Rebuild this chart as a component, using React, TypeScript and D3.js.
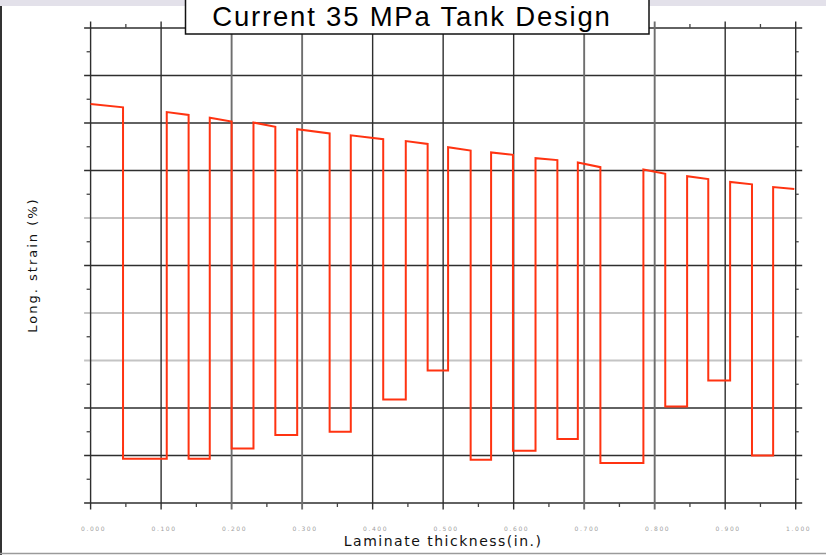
import React from "react";
import * as d3 from "d3";

// layer boundaries through the wall (in.), 15 helical + 14 hoop layers
const layerEdges = [
  0, 0.046, 0.108, 0.139, 0.169, 0.2, 0.231, 0.262, 0.293, 0.339, 0.369,
  0.415, 0.447, 0.478, 0.507, 0.539, 0.568, 0.599, 0.631, 0.662, 0.691,
  0.723, 0.784, 0.815, 0.846, 0.876, 0.907, 0.938, 0.968, 0.998,
];
// strain at inner / outer face of each layer
const strainIn = [
  0.84, 0.093, 0.823, 0.093, 0.811, 0.115, 0.801, 0.143, 0.787, 0.15, 0.774,
  0.218, 0.762, 0.279, 0.749, 0.091, 0.738, 0.11, 0.726, 0.135, 0.717, 0.084,
  0.702, 0.203, 0.688, 0.258, 0.676, 0.1, 0.665,
];
const strainOut = [
  0.833, 0.093, 0.817, 0.093, 0.803, 0.115, 0.792, 0.143, 0.778, 0.15, 0.766,
  0.218, 0.756, 0.279, 0.742, 0.091, 0.733, 0.11, 0.722, 0.135, 0.707, 0.084,
  0.693, 0.203, 0.682, 0.258, 0.671, 0.1, 0.661,
];
const xTicks = [0, 0.1, 0.2, 0.3, 0.4, 0.5, 0.6, 0.7, 0.8, 0.9, 1.0];
const yTicks = [0, 0.1, 0.2, 0.3, 0.4, 0.5, 0.6, 0.7, 0.8, 0.9, 1.0];
const fadedY = [0.3, 0.4, 0.6];
const fadedX = [0.2, 0.3, 0.7, 0.8];

const W = 826;
const H = 555;

export default function App() {
  const x = d3.scaleLinear().domain([0, 1]).range([90.6, 795.7]);
  const y = d3.scaleLinear().domain([0, 1]).range([503, 28]);
  const tk = 6.5;

  const pts: [number, number][] = [];
  strainIn.forEach((s, i) => {
    pts.push([layerEdges[i], s]);
    pts.push([layerEdges[i + 1], strainOut[i]]);
  });
  const line = d3
    .line<[number, number]>()
    .x((d) => x(d[0]))
    .y((d) => y(d[1]));

  const minorX = d3.pairs(xTicks).map((p) => (p[0] + p[1]) / 2);
  const minorY = d3.pairs(yTicks).map((p) => (p[0] + p[1]) / 2);
  const near = (arr: number[], v: number) => arr.some((a) => Math.abs(a - v) < 1e-6);

  return (
    <svg
      width={W}
      height={H}
      style={{ position: "absolute", left: 0, top: 0, background: "#fff" }}
    >
      <rect x={0} y={0} width={W} height={6} fill="#e3e1ea" />
      <line x1={1} x2={1} y1={6} y2={H} stroke="#333" strokeWidth={2} />
      <line x1={0} x2={W} y1={553.5} y2={553.5} stroke="#9a9a9a" strokeWidth={1.5} />

      {/* grid */}
      {yTicks.map((t) => (
        <line
          key={"gy" + t}
          x1={x(0) - tk}
          x2={x(1) + tk}
          y1={y(t)}
          y2={y(t)}
          stroke={near(fadedY, t) ? "#c4c4c4" : "#2e2e2e"}
          strokeWidth={near(fadedY, t) ? 2.2 : 1.4}
        />
      ))}
      {xTicks.map((t) => (
        <line
          key={"gx" + t}
          x1={x(t)}
          x2={x(t)}
          y1={y(1) - tk}
          y2={y(0) + tk}
          stroke={near(fadedX, t) ? "#6e6e6e" : "#2e2e2e"}
          strokeWidth={near(fadedX, t) ? 1.9 : 1.4}
        />
      ))}
      {/* minor ticks */}
      {minorX.map((t) => (
        <g key={"mx" + t} stroke="#444" strokeWidth={1.3}>
          <line x1={x(t)} x2={x(t)} y1={y(1)} y2={y(1) - 4} />
          <line x1={x(t)} x2={x(t)} y1={y(0)} y2={y(0) + 4} />
        </g>
      ))}
      {minorY.map((t) => (
        <g key={"my" + t} stroke="#444" strokeWidth={1.3}>
          <line x1={x(0)} x2={x(0) - 4} y1={y(t)} y2={y(t)} />
          <line x1={x(1)} x2={x(1) + 3} y1={y(t)} y2={y(t)} />
        </g>
      ))}
      {/* tick labels (faint in the source) */}
      {xTicks.map((t) => (
        <text
          key={"tl" + t}
          x={x(t) + 3}
          y={531}
          textAnchor="middle"
          fontFamily="DejaVu Sans"
          fontSize={6}
          letterSpacing={1.6}
          fill="#a0a0a0"
        >
          {d3.format(".3f")(t)}
        </text>
      ))}

      <path
        d={line(pts) || ""}
        fill="none"
        stroke="#ff3311"
        strokeWidth={2}
        strokeLinejoin="miter"
      />

      <text
        x={(x(0) + x(1)) / 2}
        y={546}
        textAnchor="middle"
        fontFamily="DejaVu Sans"
        fontSize={14}
        letterSpacing={1.5}
        fill="#111"
      >
        Laminate thickness(in.)
      </text>
      <text
        transform="translate(37,265) rotate(-90)"
        textAnchor="middle"
        fontFamily="DejaVu Sans"
        fontSize={13}
        letterSpacing={2}
        fill="#111"
      >
        Long. strain (%)
      </text>

      <rect x={185.5} y={-2} width={463.5} height={36} fill="#fff" stroke="#111" strokeWidth={1.5} />
      <text
        x={412}
        y={26}
        textAnchor="middle"
        fontFamily="Liberation Sans, Arial"
        fontSize={27.5}
        letterSpacing={1.8}
        fill="#000"
      >
        Current 35 MPa Tank Design
      </text>
    </svg>
  );
}
